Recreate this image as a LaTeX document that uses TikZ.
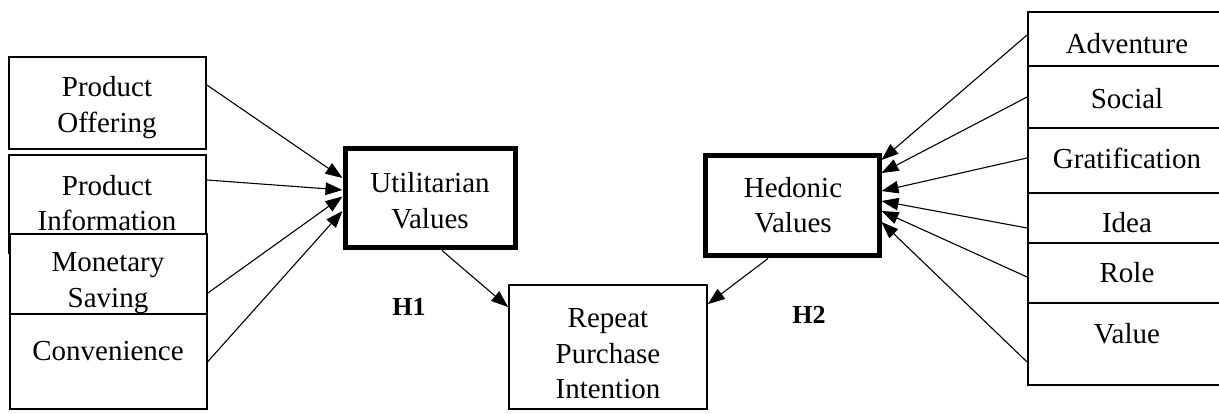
\documentclass[tikz,border=0pt]{standalone}
\usepackage{fontspec}
\setmainfont{Liberation Serif}
\usetikzlibrary{arrows.meta,calc}
\begin{document}
\begin{tikzpicture}[x=1pt,y=-1pt,
  box/.style={draw,line width=1.8pt,fill=white,inner sep=0,minimum width=197pt},
  rbox/.style={draw,line width=1.8pt,fill=white,inner sep=0,minimum width=200pt},
  mainbox/.style={draw,line width=5pt,fill=white,inner sep=0},
  txt/.style={align=center,inner sep=0,font=\fontsize{29}{35.5}\selectfont},
  hyp/.style={inner sep=0,font=\fontsize{26}{30}\selectfont\bfseries},
  arr/.style={line width=1.1pt,-{Triangle[length=17pt,width=12.5pt]}}
]
\useasboundingbox (0,0) rectangle (1219,414);
\clip (0,0) rectangle (1219,414);
\fill[white] (0,0) rectangle (1219,414);

% left boxes
\node[box,minimum height=92pt] (po) at (107.5,103) {};
\node[txt] (tpo) at (107,107.5) {Product\\Offering};
\node[box,minimum height=98pt] (pi) at (107.5,204) {};
\node[txt] (tpi) at (107,203) {Product\\Information};
\node[box,minimum height=80pt] (pm) at (108.5,274) {};
\node[txt] (tpm) at (108,283) {Monetary\\Saving};
\node[box,minimum height=95pt] (pc) at (108.5,361.5) {};
\node[txt] (tpc) at (108,351) {Convenience};

% central boxes
\node[mainbox,minimum width=170pt,minimum height=99pt] (uv) at (430,198.5) {};
\node[txt] (tuv) at (430,200.5) {Utilitarian\\Values};
\node[mainbox,minimum width=174pt,minimum height=100pt] (hv) at (792,206) {};
\node[txt] (thv) at (793,205) {Hedonic\\Values};
\node[box,minimum width=198pt,minimum height=124pt] (rp) at (608,347) {};
\node[txt] (trp) at (608,354) {Repeat\\Purchase\\Intention};

\node[hyp] (h1) at (409,307) {H1};
\node[hyp] (h2) at (809,315) {H2};

% right boxes
\node[rbox,minimum height=54pt] (adv) at (1128,39) {};
\node[txt] (tadv) at (1127,44) {Adventure};
\node[rbox,minimum height=62pt] (soc) at (1128,97) {};
\node[txt] (tsoc) at (1127,99) {Social};
\node[rbox,minimum height=65pt] (gra) at (1128,160.5) {};
\node[txt] (tgra) at (1127,158) {Gratification};
\node[rbox,minimum height=50pt] (idea) at (1128,218) {};
\node[txt] (tidea) at (1127,223) {Idea};
\node[rbox,minimum height=60pt] (role) at (1128,273) {};
\node[txt] (trole) at (1127,273) {Role};
\node[rbox,minimum height=82pt] (val) at (1128,344) {};
\node[txt] (tval) at (1127,334) {Value};

% arrows into Utilitarian
\draw[arr] ($(po.east)+(0,-18)$) -- ($(uv.west)+(0,-20.5)$);
\draw[arr] ($(pi.east)+(0,-24)$) -- ($(uv.west)+(0,-8.5)$);
\draw[arr] ($(pm.east)+(0,19)$) -- ($(uv.west)+(0,-2)$);
\draw[arr] (pc.east) -- ($(uv.west)+(0,12.5)$);

% arrows into Hedonic
\draw[arr] ($(adv.west)+(0,-4)$) -- ($(hv.east)+(0,-46)$);
\draw[arr] (soc.west) -- ($(hv.east)+(0,-33)$);
\draw[arr] ($(gra.west)+(0,-2.5)$) -- ($(hv.east)+(0,-15)$);
\draw[arr] ($(idea.west)+(0,10)$) -- ($(hv.east)+(0,-5)$);
\draw[arr] ($(role.west)+(0,4)$) -- ($(hv.east)+(0,5)$);
\draw[arr] ($(val.west)+(0,18)$) -- ($(hv.east)+(0,16)$);

% hypotheses
\draw[arr] ($(uv.south)+(12,0)$) -- ($(rp.north west)+(0,23)$);
\draw[arr] ($(hv.south)+(-24,0)$) -- ($(rp.north east)+(0,20)$);
\end{tikzpicture}
\end{document}
